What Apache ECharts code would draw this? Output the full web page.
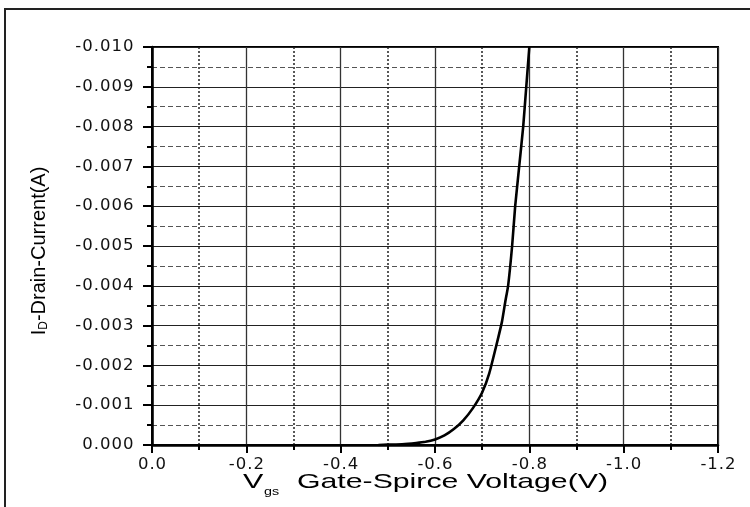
<!DOCTYPE html>
<html>
<head>
<meta charset="utf-8">
<script src="https://cdn.jsdelivr.net/npm/echarts@6/dist/echarts.min.js"></script>
<style>
html,body{margin:0;padding:0;background:#fff;}
#chart{width:750px;height:507px;}
</style>
</head>
<body>
<div id="chart"></div>
<script>
// Gate-source voltage (V) and drain current (A)
const vgs = [-0.48, -0.50, -0.53, -0.56, -0.58, -0.60, -0.62, -0.64, -0.66, -0.68, -0.70, -0.715, -0.73, -0.742, -0.749, -0.755, -0.7635, -0.770, -0.7785, -0.787, -0.7935, -0.800];
const idrain = [0, -0.00001, -0.00002, -0.00005, -0.00008, -0.00014, -0.00024, -0.00040, -0.00062, -0.00092, -0.00132, -0.0018, -0.0025, -0.0031, -0.0036, -0.0040, -0.0050, -0.0060, -0.0070, -0.0080, -0.0090, -0.0100];
// axis ranges
const xRange = [-1.2, 0];
const xStep = 0.2;
const yRange = [-0.010, 0];
const yStep = 0.001;
const xTitleMain = 'V';
const xTitleSub = 'gs';
const xTitleRest = 'Gate-Spirce Voltage(V)';
const yTitleMain = 'I';
const yTitleSub = 'D';
const yTitleRest = '-Drain-Current(A)';

function fmt(v, d){
  if (Math.abs(v) < 1e-12) v = 0;
  return v.toFixed(d).split('').map(c => '{c|' + c + '}').join('');
}
const richLabel = {c:{fontFamily:'DejaVu Sans', fontSize:16.5, color:'#111', padding:[0,0.5,0,0.5]}};
const chart = echarts.init(document.getElementById('chart'));
chart.setOption({
  animation:false,
  backgroundColor:'#fff',
  grid:{left:152, top:47, width:566, height:398, show:true, borderColor:'#000', borderWidth:2, backgroundColor:'transparent'},
  xAxis:{
    type:'value', min:xRange[0], max:xRange[1], interval:xStep, inverse:true,
    axisLine:{show:true, onZero:false, lineStyle:{color:'#000', width:2.5}},
    axisTick:{show:true, inside:false, length:8, lineStyle:{color:'#000', width:2}},
    minorTick:{show:true, splitNumber:2, length:5, lineStyle:{color:'#000', width:2}},
    splitLine:{show:true, lineStyle:{color:'#333', width:1.3}},
    minorSplitLine:{show:true, lineStyle:{color:'#222', width:1.5, type:[2,2]}},
    axisLabel:{margin:11, formatter:v=>fmt(v,1), rich:richLabel}
  },
  yAxis:{
    type:'value', min:yRange[0], max:yRange[1], interval:yStep, inverse:true,
    axisLine:{show:true, onZero:false, lineStyle:{color:'#000', width:2.5}},
    axisTick:{show:true, inside:false, length:9, lineStyle:{color:'#000', width:2}},
    minorTick:{show:true, splitNumber:2, length:5, lineStyle:{color:'#000', width:2}},
    splitLine:{show:true, lineStyle:{color:'#222', width:1.1}},
    minorSplitLine:{show:true, lineStyle:{color:'#555', width:1.2, type:[5,3]}},
    axisLabel:{margin:18, formatter:v=>fmt(v,3), rich:richLabel}
  },
  series:[{
    type:'line',
    data:vgs.map((v,i)=>[v, idrain[i]]),
    showSymbol:false,
    smooth:0.15,
    lineStyle:{color:'#000', width:2.6},
    z:5
  }],
  graphic:[
    {type:'rect', shape:{x:5, y:9, width:800, height:600}, style:{fill:null, stroke:'#222', lineWidth:2}, z:-1, silent:true},
    {type:'text', x:243, y:482, scaleX:1.45, style:{text:xTitleMain, font:'21px "Liberation Sans"', fill:'#000', align:'left', verticalAlign:'middle'}},
    {type:'text', x:264, y:492, scaleX:1.3, style:{text:xTitleSub, font:'11px "Liberation Sans"', fill:'#000', align:'left', verticalAlign:'middle'}},
    {type:'text', x:297, y:482, scaleX:1.44, style:{text:xTitleRest, font:'21px "Liberation Sans"', fill:'#000', align:'left', verticalAlign:'middle'}},
    {type:'text', x:39, y:251, rotation:Math.PI/2, style:{
      text:'{a|'+yTitleMain+'}{b|'+yTitleSub+'}{a|'+yTitleRest+'}',
      align:'center', verticalAlign:'middle', fill:'#000',
      rich:{a:{fontFamily:'Liberation Sans', fontSize:20, fill:'#000'}, b:{fontFamily:'Liberation Sans', fontSize:12, fill:'#000', padding:[9,0,0,0]}}
    }}
  ]
});
</script>
</body>
</html>
